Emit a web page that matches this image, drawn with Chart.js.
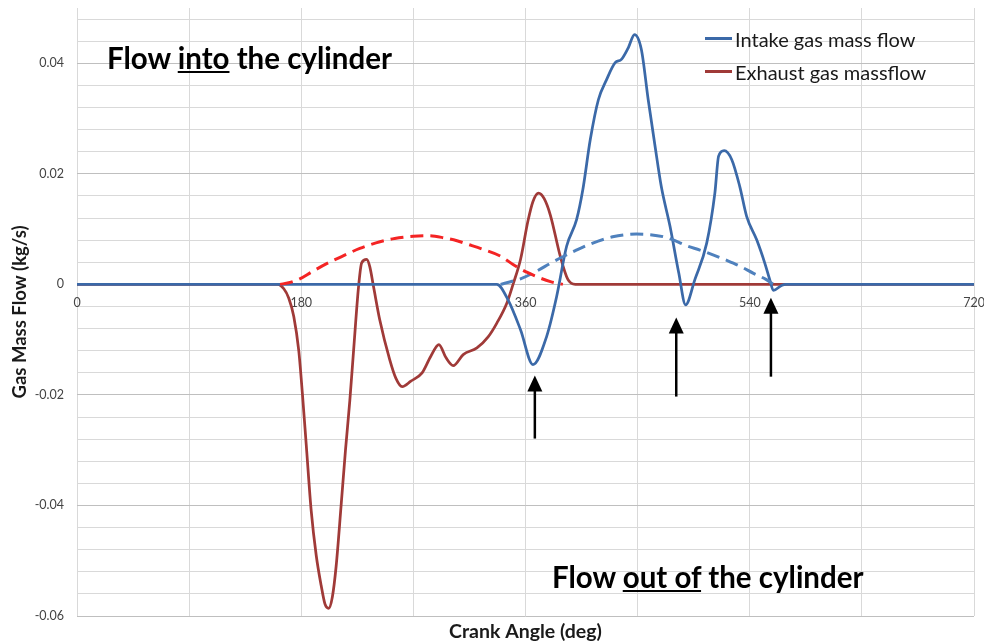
<!DOCTYPE html>
<html>
<head>
<meta charset="utf-8">
<script src="https://cdn.jsdelivr.net/npm/chart.js@4.4.0/dist/chart.umd.min.js"></script>
<style>
  body { margin: 0; background: #fff; }
  #wrap { position: relative; width: 984px; height: 643px; }
  .note { position: absolute; font-family: Lato, sans-serif; font-weight: bold; font-size: 29.5px; line-height: 36px; color: #000; white-space: nowrap; }
  #legend { position: absolute; left: 705px; top: 22px; font-family: Lato, sans-serif; font-size: 20px; color: #1a1a1a; }
  #legend div { display: flex; align-items: center; height: 33px; }
  #legend span.line { display: inline-block; width: 27px; height: 3px; margin-right: 3px; }
</style>
</head>
<body>
<div id="wrap">
  <canvas id="flowChart" width="984" height="643"></canvas>
  <div class="note" style="left:107px; top:40px;">Flow <u>into</u> the cylinder</div>
  <div class="note" style="left:552px; top:559px;">Flow <u>out of</u> the cylinder</div>
  <div id="legend"></div>
</div>
<script>
// crank angle (deg) / mass flow (kg/s)
const intakeAngle = [0, 337, 346, 356, 366, 377, 385, 393, 401, 406, 412, 418.5, 425, 432, 437, 442.5, 447.5, 453, 458.5, 464, 469, 476, 483, 488.5, 496, 505.5, 512, 515, 519.5, 525.5, 532, 537.5, 545.5, 552, 556, 559, 565.5, 569, 720];
const intakeFlow = [0, 0, -0.0028, -0.0082, -0.0145, -0.0094, -0.0022, 0.0069, 0.0117, 0.0171, 0.0262, 0.0334, 0.0370, 0.0401, 0.0407, 0.0428, 0.0452, 0.0425, 0.0334, 0.0250, 0.0177, 0.0105, 0.0021, -0.0037, 0.0009, 0.0075, 0.0165, 0.0232, 0.0242, 0.0226, 0.0177, 0.0123, 0.0081, 0.0039, 0.0009, -0.0011, -0.0002, 0, 0];

const exhaustAngle = [0, 161, 166, 170, 174, 178, 181, 184, 188, 192, 196, 199, 202, 205, 208, 212, 215.5, 219, 222, 226, 228.5, 232.5, 235, 238, 243, 251, 256, 261, 268, 277, 284, 290.5, 296, 302, 310, 321, 330, 337, 345, 350, 356, 362, 366, 370.5, 375, 380, 388, 394, 400, 720];
const exhaustFlow = [0, 0, -0.0008, -0.0025, -0.0058, -0.012, -0.020, -0.029, -0.041, -0.049, -0.0545, -0.0578, -0.0586, -0.0565, -0.051, -0.040, -0.030, -0.021, -0.012, -0.0004, 0.0039, 0.0045, 0.0032, -0.0004, -0.0064, -0.0136, -0.0170, -0.0185, -0.0175, -0.0160, -0.0130, -0.0109, -0.0132, -0.0147, -0.0127, -0.0115, -0.0095, -0.0070, -0.0034, 0, 0.0045, 0.0115, 0.0150, 0.0165, 0.0155, 0.0125, 0.0050, 0.0009, 0, 0];

// dashed reference arcs (not in legend)
const exhaustArcAngle = [163, 170, 178, 188, 200, 214, 227, 240, 255, 270, 282, 295, 305, 313, 325, 340, 350, 361, 370, 380, 390];
const exhaustArcFlow = [0, 0.0003, 0.0009, 0.0022, 0.0037, 0.0052, 0.0065, 0.0075, 0.0083, 0.0087, 0.0088, 0.0084, 0.0079, 0.0073, 0.0064, 0.0051, 0.0036, 0.0022, 0.0013, 0.0005, 0];
const intakeArcAngle = [340, 350, 356, 369, 380, 390, 400, 412, 430, 449, 460, 471, 480, 489, 500, 511, 522, 532, 543, 553, 559];
const intakeArcFlow = [0, 0.0006, 0.0010, 0.0024, 0.0038, 0.0050, 0.0061, 0.0073, 0.0086, 0.0091, 0.0090, 0.0086, 0.0079, 0.0070, 0.0062, 0.0053, 0.0043, 0.0033, 0.0020, 0.0009, 0];

// arrows: crank angle, tail value, tip value
const arrowAngle = [367.5, 481, 557];
const arrowTail = [-0.0279, -0.0203, -0.0167];
const arrowTip = [-0.0165, -0.0060, -0.0024];

// axis ticks
const xGridTicks = [0, 90, 180, 270, 360, 450, 540, 630, 720];
const xTickLabels = ['0', '', '180', '', '360', '', '540', '', '720'];
const yMajorTicks = [-0.06, -0.04, -0.02, 0, 0.02, 0.04];
const yTickLabels = ['-0.06', '-0.04', '-0.02', '0', '0.02', '0.04'];

const pts = (xs, ys) => xs.map((v, i) => ({ x: v, y: ys[i] }));
const isMajor = v => yMajorTicks.some(m => Math.abs(m - v) < 1e-9);

const arrowPlugin = {
  id: 'arrows',
  afterDatasetsDraw(chart) {
    const { ctx, scales: { x, y } } = chart;
    ctx.save();
    ctx.strokeStyle = '#000';
    ctx.fillStyle = '#000';
    ctx.lineWidth = 2.5;
    arrowAngle.forEach((a, i) => {
      const px = x.getPixelForValue(a);
      const y0 = y.getPixelForValue(arrowTail[i]);
      const y1 = y.getPixelForValue(arrowTip[i]);
      ctx.beginPath();
      ctx.moveTo(px, y0);
      ctx.lineTo(px, y1 + 12);
      ctx.stroke();
      ctx.beginPath();
      ctx.moveTo(px, y1);
      ctx.lineTo(px - 7.5, y1 + 16);
      ctx.lineTo(px + 7.5, y1 + 16);
      ctx.closePath();
      ctx.fill();
    });
    ctx.restore();
  }
};

Chart.defaults.font.family = 'Lato, sans-serif';

const chart = new Chart(document.getElementById('flowChart'), {
  type: 'line',
  data: {
    datasets: [
      {
        label: 'Exhaust valve (dashed)',
        data: pts(exhaustArcAngle, exhaustArcFlow),
        borderColor: '#F42424',
        borderWidth: 3,
        borderDash: [13, 7],
        pointRadius: 0,
        cubicInterpolationMode: 'monotone',
        inLegend: false
      },
      {
        label: 'Intake valve (dashed)',
        data: pts(intakeArcAngle, intakeArcFlow),
        borderColor: '#4F81BD',
        borderWidth: 3,
        borderDash: [13, 7],
        pointRadius: 0,
        cubicInterpolationMode: 'monotone',
        inLegend: false
      },
      {
        label: 'Intake gas mass flow',
        data: pts(intakeAngle, intakeFlow),
        borderColor: '#3B69A8',
        borderWidth: 2.75,
        pointRadius: 0,
        cubicInterpolationMode: 'monotone',
        inLegend: true
      },
      {
        label: 'Exhaust gas massflow',
        data: pts(exhaustAngle, exhaustFlow),
        borderColor: '#A03A38',
        borderWidth: 2.75,
        pointRadius: 0,
        cubicInterpolationMode: 'monotone',
        inLegend: true
      }
    ]
  },
  options: {
    responsive: false,
    animation: false,
    devicePixelRatio: 1,
    layout: { padding: { top: 8, right: 10, left: 0, bottom: 0 } },
    plugins: { legend: { display: false }, tooltip: { enabled: false } },
    scales: {
      x: {
        type: 'linear',
        min: 0,
        max: 720,
        position: { y: 0 },
        afterBuildTicks: s => { s.ticks = xGridTicks.map(v => ({ value: v })); },
        ticks: {
          autoSkip: false,
          maxRotation: 0,
          padding: 11,
          color: '#444',
          font: { size: 12.5 },
          callback: v => xTickLabels[xGridTicks.indexOf(v)] ?? ''
        },
        grid: { drawTicks: false, color: '#D9D9D9' },
        border: { display: false },
        afterFit: s => { s.paddingLeft = 0; s.paddingRight = 0; }
      },
      x2: {
        type: 'linear',
        min: 0,
        max: 720,
        position: 'bottom',
        ticks: { display: false },
        grid: { display: false },
        border: { display: false },
        title: {
          display: true,
          text: 'Crank Angle (deg)',
          color: '#1a1a1a',
          font: { size: 19.5, weight: 'bold' },
          padding: { top: 0, bottom: 0 }
        },
        afterFit: s => { s.height = 27; s.paddingLeft = 0; s.paddingRight = 0; }
      },
      y: {
        min: -0.06,
        max: 0.05,
        afterBuildTicks: s => {
          const t = [];
          for (let k = 0; k <= 27; k++) t.push({ value: Math.round((-0.06 + k * 0.004) * 1e6) / 1e6 });
          s.ticks = t;
        },
        ticks: {
          autoSkip: false,
          padding: 13,
          color: '#444',
          font: { size: 12.5 },
          callback: v => {
            const i = yMajorTicks.findIndex(m => Math.abs(m - v) < 1e-9);
            return i >= 0 ? yTickLabels[i] : '';
          }
        },
        grid: {
          drawTicks: false,
          color: ctx => isMajor(ctx.tick.value) ? '#BFBFBF' : '#D9D9D9'
        },
        border: { display: false },
        title: {
          display: true,
          text: 'Gas Mass Flow (kg/s)',
          color: '#1a1a1a',
          font: { size: 18.5, weight: 'bold' },
          padding: { top: 9, bottom: 0 }
        },
        afterFit: s => { s.width = 77; s.paddingTop = 0; s.paddingBottom = 0; }
      }
    }
  },
  plugins: [arrowPlugin]
});

// legend
const legend = document.getElementById('legend');
chart.data.datasets.filter(d => d.inLegend).forEach(d => {
  const row = document.createElement('div');
  const line = document.createElement('span');
  line.className = 'line';
  line.style.background = d.borderColor;
  row.appendChild(line);
  row.appendChild(document.createTextNode(d.label));
  legend.appendChild(row);
});
</script>
</body>
</html>
